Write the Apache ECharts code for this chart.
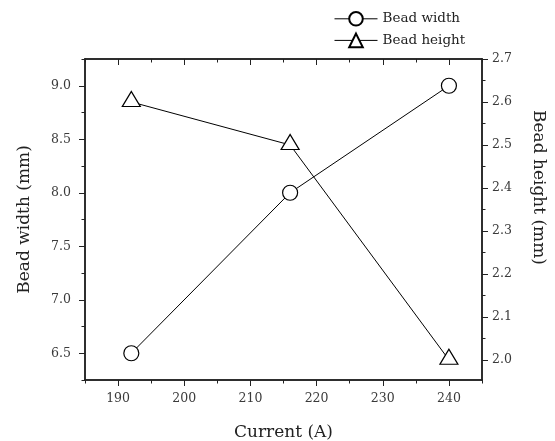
<!DOCTYPE html>
<html>
<head>
<meta charset="utf-8">
<script src="https://cdn.jsdelivr.net/npm/echarts@6/dist/echarts.min.js"></script>
<style>
  html, body { margin: 0; padding: 0; background: #fff; }
  #chart { width: 555px; height: 441px; }
</style>
</head>
<body>
<div id="chart"></div>
<script>
// data
var current = [192, 216, 240]
var beadWidth = [6.5, 8.0, 9.0]
var beadHeight = [2.6, 2.5, 2.0]

// tick positions
var xMajor = [190, 200, 210, 220, 230, 240]
var xMinor = [185, 195, 205, 215, 225, 235, 245]
var leftMajor = [6.5, 7.0, 7.5, 8.0, 8.5, 9.0]
var leftMinor = [6.25, 6.75, 7.25, 7.75, 8.25, 8.75, 9.25]
var rightMajor = [2.0, 2.1, 2.2, 2.3, 2.4, 2.5, 2.6, 2.7]
var rightMinor = [2.05, 2.15, 2.25, 2.35, 2.45, 2.55, 2.65]

var font = 'DejaVu Serif'
var ink = '#222'
var labelInk = '#3a3a3a'

function xAxisOf(pos, ticks, len, inside, labels, extra) {
  var ax = {
    type: 'value',
    position: pos,
    min: 185,
    max: 245,
    axisLine: { show: true, lineStyle: { color: ink, width: 1.5 } },
    axisTick: { show: true, inside: inside, length: len, customValues: ticks, lineStyle: { color: ink, width: 1 } },
    axisLabel: labels ? { show: true, customValues: ticks, color: labelInk, fontFamily: font, fontSize: 12.5, margin: 12 } : { show: false },
    splitLine: { show: false }
  }
  return Object.assign(ax, extra || {})
}

function yAxisOf(pos, min, max, ticks, len, labels, margin, extra) {
  var ax = {
    type: 'value',
    position: pos,
    min: min,
    max: max,
    axisLine: { show: true, lineStyle: { color: ink, width: 1.5 } },
    axisTick: { show: true, inside: false, length: len, customValues: ticks, lineStyle: { color: ink, width: 1 } },
    axisLabel: labels ? {
      show: true, customValues: ticks, color: labelInk, fontFamily: font, fontSize: 12.5, margin: margin,
      formatter: function (v) { return v.toFixed(1) }
    } : { show: false },
    splitLine: { show: false }
  }
  return Object.assign(ax, extra || {})
}

var chart = echarts.init(document.getElementById('chart'))
chart.setOption({
  animation: false,
  grid: { left: 85, right: 73, top: 59, bottom: 61, outerBoundsMode: 'none' },
  legend: {
    orient: 'vertical',
    left: 334,
    top: 11,
    padding: 0,
    itemWidth: 43,
    itemHeight: 17,
    itemGap: 6,
    lineStyle: { width: 1 },
    textStyle: { color: ink, fontFamily: font, fontSize: 13.5 },
    data: ['Bead width', 'Bead height']
  },
  xAxis: [
    xAxisOf('bottom', xMajor, 6, false, true, {
      name: 'Current (A)',
      nameLocation: 'middle',
      nameGap: 44,
      nameTextStyle: { color: ink, fontFamily: font, fontSize: 17 }
    }),
    xAxisOf('bottom', xMinor, 3.5, false, false),
    xAxisOf('top', xMajor, 6, true, false),
    xAxisOf('top', xMinor, 3.5, true, false)
  ],
  yAxis: [
    yAxisOf('left', 6.25, 9.25, leftMajor, 6, true, 14, {
      name: 'Bead width (mm)',
      nameLocation: 'middle',
      nameGap: 52,
      nameTextStyle: { color: ink, fontFamily: font, fontSize: 17 }
    }),
    yAxisOf('left', 6.25, 9.25, leftMinor, 3.5, false),
    yAxisOf('right', 1.953, 2.7, rightMajor, 6, true, 10, {
      name: 'Bead height (mm)',
      nameLocation: 'middle',
      nameGap: 48,
      nameRotate: -90,
      nameTextStyle: { color: ink, fontFamily: font, fontSize: 17, padding: [0, 64, 0, 0] }
    }),
    yAxisOf('right', 1.953, 2.7, rightMinor, 3.5, false)
  ],
  series: [
    {
      name: 'Bead width',
      type: 'line',
      xAxisIndex: 0,
      yAxisIndex: 0,
      data: current.map(function (x, i) { return [x, beadWidth[i]] }),
      symbol: 'circle',
      symbolSize: 15,
      lineStyle: { color: '#000', width: 1 },
      itemStyle: { color: '#fff', borderColor: '#000', borderWidth: 1.2 }
    },
    {
      name: 'Bead height',
      type: 'line',
      xAxisIndex: 0,
      yAxisIndex: 2,
      data: current.map(function (x, i) { return [x, beadHeight[i]] }),
      symbol: 'triangle',
      symbolSize: [18, 15],
      symbolOffset: [0, -3],
      lineStyle: { color: '#000', width: 1 },
      itemStyle: { color: '#fff', borderColor: '#000', borderWidth: 1.2 }
    }
  ]
})
</script>
</body>
</html>
